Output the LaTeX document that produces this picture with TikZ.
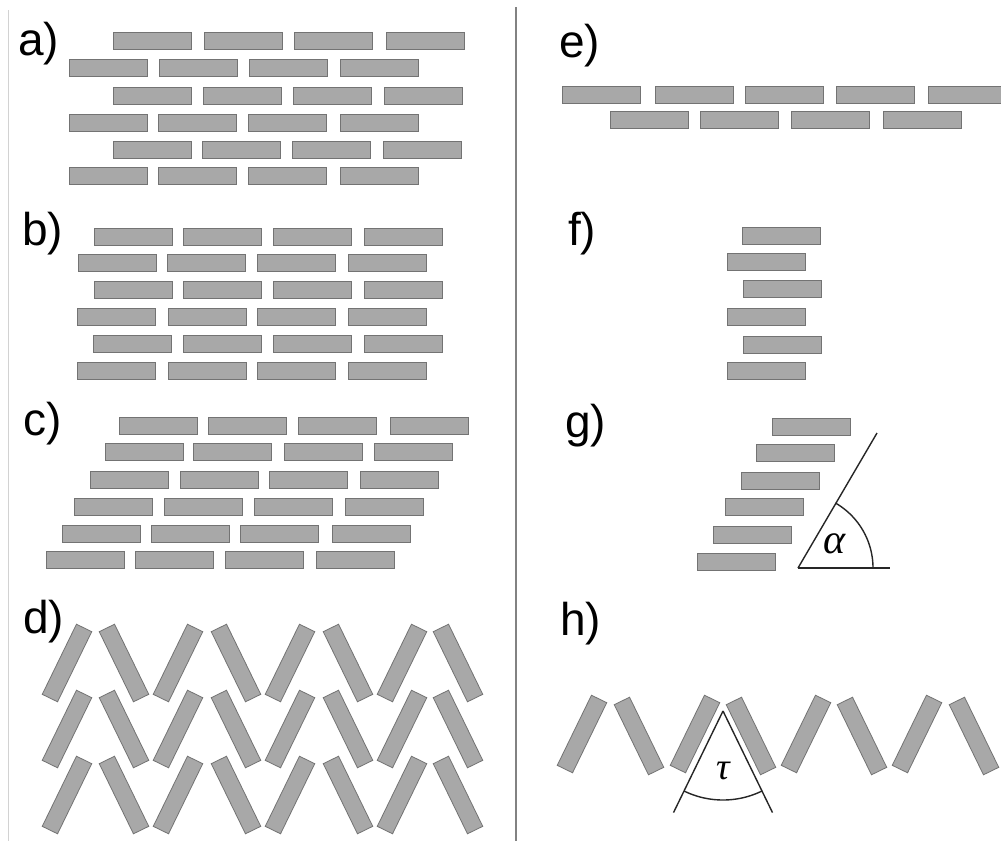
\documentclass[tikz,border=0pt]{standalone}
\usepackage{fontspec}
\setmainfont{Liberation Sans}
\newfontfamily\grkfont{Liberation Serif}
\definecolor{brickfill}{RGB}{168,168,168}
\definecolor{brickedge}{RGB}{115,115,115}
\definecolor{divgray}{RGB}{130,130,130}
\tikzset{
  brick/.style={draw=brickedge, fill=brickfill, line width=0.8pt, minimum width=78pt, minimum height=17pt, inner sep=0pt, outer sep=0pt},
  lbl/.style={anchor=base west, inner sep=0pt, font=\fontsize{46}{46}\selectfont},
  anglet/.style={line width=1.4pt, draw=black!85},
}
\newcommand\brickrow[3]{\foreach \xx [count=\cc] in {#3} {\node[brick, anchor=north west] (#1-\cc) at (\xx,#2) {};}}
\begin{document}
\begin{tikzpicture}[x=1pt,y=-1pt]
\fill[white] (0,0) rectangle (1001,841);
\useasboundingbox (0,0) rectangle (1001,841);
% borders
\draw[gray!35, line width=1pt] (8,10) -- (8,841);
\draw[divgray, line width=1.4pt] (516,7) -- (516,841);
% labels
\node[lbl] (la) at (18,55) {a)};
\node[lbl] (lb) at (22,245) {b)};
\node[lbl] (lc) at (23,435) {c)};
\node[lbl] (ld) at (23,633) {d)};
\node[lbl] (le) at (559,57) {e)};
\node[lbl] (lf) at (568,245) {f)};
\node[lbl] (lg) at (565,437) {g)};
\node[lbl] (lh) at (560,635) {h)};
% panel a
\brickrow{a1}{32}{113,204,294,386}
\brickrow{a2}{59}{69,159,249,340}
\brickrow{a3}{87}{113,203,293,384}
\brickrow{a4}{114}{69,158,248,340}
\brickrow{a5}{141}{113,202,292,383}
\brickrow{a6}{167}{69,158,248,340}
% panel b
\brickrow{b1}{228}{94,183,273,364}
\brickrow{b2}{254}{78,167,257,348}
\brickrow{b3}{281}{94,183,273,364}
\brickrow{b4}{308}{77,168,257,348}
\brickrow{b5}{335}{93,183,273,364}
\brickrow{b6}{362}{77,168,257,348}
% panel c
\brickrow{c1}{417}{119,208,298,390}
\brickrow{c2}{443}{105,193,284,374}
\brickrow{c3}{471}{90,180,269,360}
\brickrow{c4}{498}{74,164,254,345}
\brickrow{c5}{525}{62,151,240,332}
\brickrow{c6}{551}{46,135,225,316}
% panel d
\foreach \r/\yy in {1/663,2/729,3/795}{
  \foreach \xx [count=\cc] in {67,178,290,402} {\node[brick, rotate=64] (d\r-u\cc) at (\xx,\yy) {};}
  \foreach \xx [count=\cc] in {124,236,348,458} {\node[brick, rotate=-64] (d\r-v\cc) at (\xx,\yy) {};}
}
% panel e
\brickrow{e1}{86}{562,655,745,836,928}
\brickrow{e2}{111}{610,700,791,883}
% panel f
\node[brick, anchor=north west] (f1) at (742,227) {};
\node[brick, anchor=north west] (f2) at (727,253) {};
\node[brick, anchor=north west] (f3) at (743,280) {};
\node[brick, anchor=north west] (f4) at (727,308) {};
\node[brick, anchor=north west] (f5) at (743,336) {};
\node[brick, anchor=north west] (f6) at (727,362) {};
% panel g
\node[brick, anchor=north west] (g1) at (772,418) {};
\node[brick, anchor=north west] (g2) at (756,444) {};
\node[brick, anchor=north west] (g3) at (741,472) {};
\node[brick, anchor=north west] (g4) at (725,498) {};
\node[brick, anchor=north west] (g5) at (713,526) {};
\node[brick, anchor=north west] (g6) at (697,553) {};
\coordinate (gO) at (798,568);
\coordinate (gE) at (890,568);
\coordinate (gT) at (877,433);
\draw[anglet] (gO) -- (gE);
\draw[anglet] (gO) -- (gT);
\draw[anglet] plot[domain=0:60, samples=40, smooth] ({798+75*cos(\x)},{568-75*sin(\x)});
\node[inner sep=0pt] (alpha) at (835,544) {\grkfont\itshape\fontsize{42}{42}\selectfont α};
% panel h
\foreach \xx [count=\cc] in {582,695,806,917} {\node[brick, rotate=64] (h-u\cc) at (\xx,734) {};}
\foreach \xx [count=\cc] in {639,751,862,974} {\node[brick, rotate=-64] (h-v\cc) at (\xx,736) {};}
\coordinate (hA) at (723,711);
\coordinate (hL) at (673.5,812.6);
\coordinate (hR) at (772.5,812.6);
\draw[anglet] (hA) -- (hL);
\draw[anglet] (hA) -- (hR);
\draw[anglet] plot[domain=64:116, samples=40, smooth] ({723+89*cos(\x)},{711+89*sin(\x)});
\node[inner sep=0pt] (tau) at (723,771) {\grkfont\itshape\fontsize{38}{38}\selectfont τ};
\end{tikzpicture}
\end{document}
